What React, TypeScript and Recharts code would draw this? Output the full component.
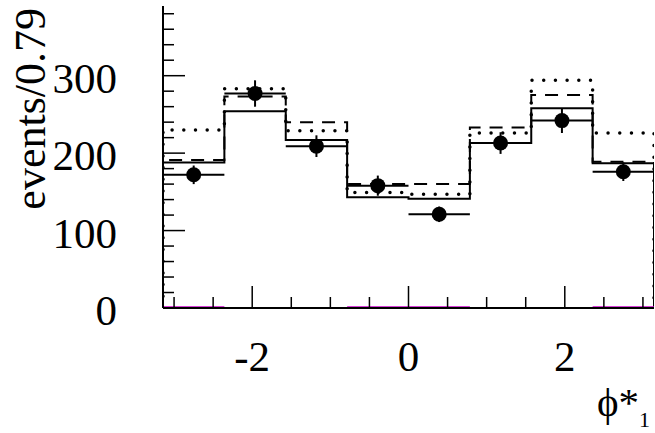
import {
  ComposedChart,
  Line,
  Scatter,
  ErrorBar,
  XAxis,
  YAxis,
} from "recharts";

const PI = Math.PI;
const X_MIN = -PI;
const X_MAX = PI;
const Y_MAX = 390;
const BIN_COUNT = 8;

// bin edges of the phi* histogram (8 bins over [-pi, pi])
const binEdges = Array.from({ length: BIN_COUNT + 1 }, (_, i) => X_MIN + (i * (X_MAX - X_MIN)) / BIN_COUNT);
const binCenters = binEdges.slice(0, BIN_COUNT).map((e, i) => (e + binEdges[i + 1]) / 2);
const binHalfWidth = (X_MAX - X_MIN) / BIN_COUNT / 2;

// measured events per bin with their statistical errors
const dataCounts = [172, 277, 209, 158, 121, 213, 242, 176];
const dataErrors = [12, 17, 14, 13, 10, 14, 16, 12];

// model predictions
const solidCounts = [188, 254, 217, 143, 141, 213, 258, 187];
const dashedCounts = [191, 273, 240, 160, 160, 233, 275, 189];
const dottedCounts = [230, 283, 229, 149, 147, 226, 294, 226];
const backgroundCounts = [1, 0, 0, 1, 1, 0, 0, 1];

// axis ticks
const xMajorTicks = [-2, 0, 2];
const xMinorTicks = [-3, -2.5, -1.5, -1, -0.5, 0.5, 1, 1.5, 2.5, 3];
const yMajorTicks = [0, 100, 200, 300];
const yMinorTicks = [20, 40, 60, 80, 120, 140, 160, 180, 220, 240, 260, 280, 320, 340, 360, 380];

const FONT = "'Liberation Serif', 'DejaVu Serif', serif";
const MAJOR = 22;
const MINOR = 11;

const xTicks = [...xMinorTicks, ...xMajorTicks].sort((a, b) => a - b);
const yTicks = [...yMinorTicks, ...yMajorTicks].sort((a, b) => a - b);

// histogram outline: drop to zero at both ends, flat tops per bin
function stepOutline(values: number[]) {
  const pts: { x: number; y: number | null }[] = [{ x: binEdges[0], y: 0 }];
  values.forEach((v, i) => {
    pts.push({ x: binEdges[i], y: v });
    pts.push({ x: binEdges[i + 1], y: v });
  });
  pts.push({ x: binEdges[BIN_COUNT], y: 0 });
  return pts;
}

// only the non-empty bins, as separate flat segments
function binSegments(values: number[]) {
  const pts: { x: number; y: number | null }[] = [];
  values.forEach((v, i) => {
    if (v <= 0) return;
    pts.push({ x: binEdges[i], y: v });
    pts.push({ x: binEdges[i + 1], y: v });
    pts.push({ x: binCenters[i], y: null });
  });
  return pts;
}

const points = binCenters.map((x, i) => ({
  x,
  y: dataCounts[i],
  ex: binHalfWidth,
  ey: dataErrors[i],
}));

const isMajorX = (v: number) => xMajorTicks.includes(v);
const isMajorY = (v: number) => yMajorTicks.includes(v);

function BottomTick(props: any) {
  const { x, y, payload } = props;
  const major = isMajorX(payload.value);
  return (
    <g>
      <line x1={x} x2={x} y1={y} y2={y - (major ? MAJOR : MINOR)} stroke="#000" strokeWidth={1.5} />
      {major && (
        <text x={x} y={y + 63} textAnchor="middle" fontFamily={FONT} fontSize={43} fill="#000">
          {payload.value < 0 ? `-${Math.abs(payload.value)}` : payload.value}
        </text>
      )}
    </g>
  );
}

function TopTick(props: any) {
  const { x, y, payload } = props;
  const major = isMajorX(payload.value);
  return <line x1={x} x2={x} y1={y} y2={y + (major ? MAJOR : MINOR)} stroke="#000" strokeWidth={1.5} />;
}

function LeftTick(props: any) {
  const { x, y, payload } = props;
  const major = isMajorY(payload.value);
  return (
    <g>
      <line x1={x} x2={x + (major ? MAJOR : MINOR)} y1={y} y2={y} stroke="#000" strokeWidth={1.5} />
      {major && (
        <text x={x - 46} y={y + 17} textAnchor="end" fontFamily={FONT} fontSize={43} fill="#000">
          {payload.value}
        </text>
      )}
    </g>
  );
}

function RightTick(props: any) {
  const { x, y, payload } = props;
  const major = isMajorY(payload.value);
  return <line x1={x} x2={x - (major ? MAJOR : MINOR)} y1={y} y2={y} stroke="#000" strokeWidth={1.5} />;
}

function YTitle() {
  return (
    <text
      x={45}
      y={8}
      transform="rotate(-90, 45, 8)"
      textAnchor="end"
      fontFamily={FONT}
      fontSize={44}
      fill="#000"
    >
      events/0.79
    </text>
  );
}

function XTitle() {
  return (
    <text x={597} y={416} fontFamily={FONT} fontSize={41} fill="#000">
      ϕ*
      <tspan x={639} y={427} fontSize={22}>
        1
      </tspan>
    </text>
  );
}

const frame = { stroke: "#000", strokeWidth: 2 };

export default function App() {
  return (
    <div style={{ position: "absolute", left: 0, top: 0, background: "#fff" }}>
      <ComposedChart width={655} height={433} margin={{ top: 6, right: 1, bottom: 0, left: 0 }}>
        <XAxis
          xAxisId="bottom"
          dataKey="x"
          type="number"
          domain={[X_MIN, X_MAX]}
          allowDataOverflow
          ticks={xTicks}
          interval={0}
          tickSize={0}
          tickMargin={0}
          tickLine={false}
          axisLine={frame}
          tick={<BottomTick />}
          height={125}
          label={{ content: () => <XTitle /> }}
        />
        <XAxis
          xAxisId="top"
          orientation="top"
          dataKey="x"
          type="number"
          domain={[X_MIN, X_MAX]}
          allowDataOverflow
          ticks={xTicks}
          interval={0}
          tickSize={0}
          tickMargin={0}
          tickLine={false}
          axisLine={frame}
          tick={<TopTick />}
          height={0}
        />
        <YAxis
          yAxisId="left"
          dataKey="y"
          type="number"
          domain={[0, Y_MAX]}
          allowDataOverflow
          ticks={yTicks}
          interval={0}
          tickSize={0}
          tickMargin={0}
          tickLine={false}
          axisLine={frame}
          tick={<LeftTick />}
          width={163}
          label={{ content: () => <YTitle /> }}
        />
        <YAxis
          yAxisId="right"
          orientation="right"
          type="number"
          domain={[0, Y_MAX]}
          allowDataOverflow
          ticks={yTicks}
          interval={0}
          tickSize={0}
          tickMargin={0}
          tickLine={false}
          axisLine={frame}
          tick={<RightTick />}
          width={0}
        />

        <Line
          xAxisId="bottom"
          yAxisId="left"
          data={stepOutline(dottedCounts)}
          dataKey="y"
          type="linear"
          stroke="#000"
          strokeWidth={3.5}
          strokeLinecap="round"
          strokeDasharray="0 11.7"
          dot={false}
          activeDot={false}
          isAnimationActive={false}
        />
        <Line
          xAxisId="bottom"
          yAxisId="left"
          data={stepOutline(dashedCounts)}
          dataKey="y"
          type="linear"
          stroke="#000"
          strokeWidth={2}
          strokeDasharray="13 9"
          dot={false}
          activeDot={false}
          isAnimationActive={false}
        />
        <Line
          xAxisId="bottom"
          yAxisId="left"
          data={stepOutline(solidCounts)}
          dataKey="y"
          type="linear"
          stroke="#000"
          strokeWidth={2}
          dot={false}
          activeDot={false}
          isAnimationActive={false}
        />
        <Line
          xAxisId="bottom"
          yAxisId="left"
          data={binSegments(backgroundCounts)}
          dataKey="y"
          type="linear"
          stroke="#cc00cc"
          strokeWidth={2}
          connectNulls={false}
          dot={false}
          activeDot={false}
          isAnimationActive={false}
        />
        <Scatter
          xAxisId="bottom"
          yAxisId="left"
          data={points}
          dataKey="y"
          fill="#000"
          isAnimationActive={false}
          shape={(p: any) => <circle cx={p.cx} cy={p.cy} r={7.5} fill="#000" />}
        >
          <ErrorBar dataKey="ex" direction="x" width={0} stroke="#000" strokeWidth={2} />
          <ErrorBar dataKey="ey" direction="y" width={0} stroke="#000" strokeWidth={2} />
        </Scatter>
      </ComposedChart>
    </div>
  );
}
